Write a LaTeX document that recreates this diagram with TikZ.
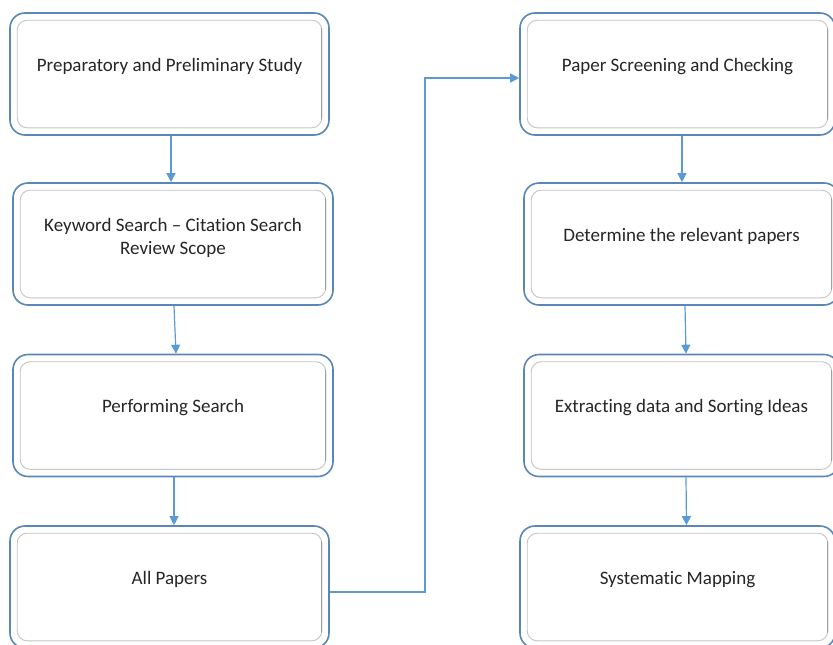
\documentclass[tikz,border=0pt]{standalone}
\usepackage{fontspec}
\setmainfont{Carlito}[Ligatures=NoCommon]
\usetikzlibrary{arrows.meta,calc}
\definecolor{boxblue}{HTML}{5A86B8}
\definecolor{arrblue}{HTML}{5B9BD5}
\definecolor{innergray}{HTML}{C4C4C4}
\definecolor{txtcol}{HTML}{262626}
\tikzset{
  outerbox/.style={draw=boxblue, line width=1.6pt, rounded corners=15pt, minimum height=122pt, inner sep=0pt, fill=white},
  lbl/.style={text=txtcol, font=\fontsize{19}{23}\selectfont, align=center, inner sep=0pt},
  arr/.style={draw=arrblue, line width=1.2pt, -{Triangle[length=9pt,width=9pt]}},
}
\newcommand{\innerb}[1]{%
  \draw[innergray, line width=0.9pt, rounded corners=10pt] ([shift={(8pt,-8pt)}]#1.north west) rectangle ([shift={(-8pt,8pt)}]#1.south east);
  \draw[gray!75, line width=0.7pt] ([shift={(-8pt,-16pt)}]#1.north east) -- ([shift={(-8pt,16pt)}]#1.south east);
}
\begin{document}
\begin{tikzpicture}[x=1pt,y=-1pt]
\useasboundingbox (0,0) rectangle (833,645);
\node[outerbox, minimum width=319pt] (b1) at (169.5,74) {};
\node[outerbox, minimum width=320pt] (b2) at (173,244) {};
\node[outerbox, minimum width=320pt] (b3) at (173,415.5) {};
\node[outerbox, minimum width=319pt] (b4) at (169.5,587) {};
\node[outerbox, minimum width=315pt] (b5) at (677.5,74) {};
\node[outerbox, minimum width=315pt] (b6) at (681.5,244) {};
\node[outerbox, minimum width=315pt] (b7) at (681.5,415.5) {};
\node[outerbox, minimum width=315pt] (b8) at (677.5,587) {};
\foreach \b in {b1,b2,b3,b4,b5,b6,b7,b8} {\innerb{\b}}
\node[lbl] (t1) at ([yshift=7.5pt]b1.center) {Preparatory and Preliminary Study};
\node[lbl] (t2) at ([yshift=6.5pt]b2.center) {Keyword Search -- Citation Search\\Review Scope};
\node[lbl] (t3) at ([yshift=7.5pt]b3.center) {Performing Search};
\node[lbl] (t4) at ([yshift=7.5pt]b4.center) {All Papers};
\node[lbl] (t5) at ([yshift=7.5pt]b5.center) {Paper Screening and Checking};
\node[lbl] (t6) at ([yshift=7.5pt]b6.center) {Determine the relevant papers};
\node[lbl] (t7) at ([yshift=7.5pt]b7.center) {Extracting data and Sorting Ideas};
\node[lbl] (t8) at ([yshift=7.5pt]b8.center) {Systematic Mapping};
\coordinate (j) at (425,78);
\draw[arr] ([xshift=1.5pt]b1.south) -- ([xshift=-2pt]b2.north);
\draw[arr] ([xshift=1pt]b2.south) -- ([xshift=3pt]b3.north);
\draw[arr] ([xshift=1pt]b3.south) -- ([xshift=4.5pt]b4.north);
\draw[arr] ([yshift=-5pt]b4.east) -| (j) -- ([yshift=-4pt]b5.west);
\draw[arr] ([xshift=4.5pt]b5.south) -- ([xshift=0.5pt]b6.north);
\draw[arr] ([xshift=3.5pt]b6.south) -- ([xshift=4.5pt]b7.north);
\draw[arr] ([xshift=4.5pt]b7.south) -- ([xshift=9pt]b8.north);
\end{tikzpicture}
\end{document}
